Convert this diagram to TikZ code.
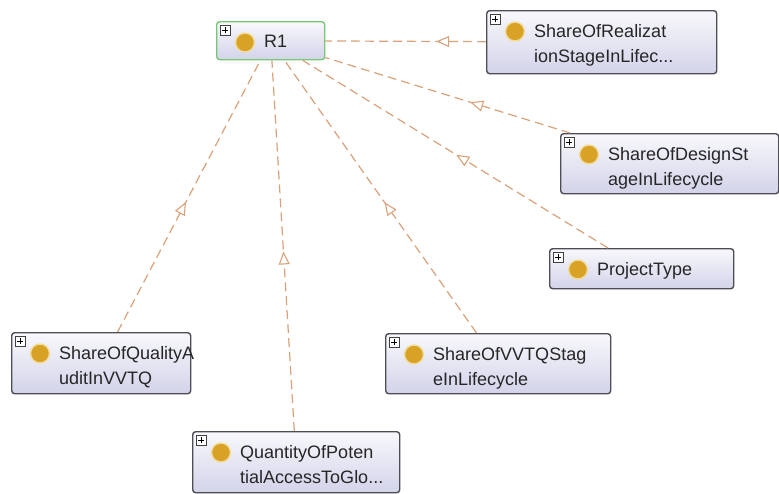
\documentclass[tikz,border=0pt]{standalone}
\usepackage{fontspec}
\setmainfont{Liberation Sans}
\usetikzlibrary{arrows.meta,decorations.markings}
\definecolor{edgec}{HTML}{D9A27A}
\definecolor{dotc}{HTML}{D8A227}
\definecolor{haloc}{HTML}{F2DC9C}
\definecolor{framec}{HTML}{4D4D55}
\definecolor{topc}{HTML}{F8F8FC}
\definecolor{botc}{HTML}{D3D3EA}
\definecolor{greenc}{HTML}{77C777}
\tikzset{
  boxframe/.style={rectangle, rounded corners=3pt, draw=framec, line width=1.4pt,
    top color=topc, bottom color=botc, inner sep=0pt},
  rootframe/.style={boxframe, draw=greenc},
  plusbox/.style={rectangle, draw=black!75, fill=white, line width=0.6pt,
    minimum size=10pt, inner sep=0pt,
    path picture={\draw[line width=0.9pt,black]
      ([xshift=-3pt]path picture bounding box.center) -- ([xshift=3pt]path picture bounding box.center)
      ([yshift=-3pt]path picture bounding box.center) -- ([yshift=3pt]path picture bounding box.center);}},
  dot/.style={circle, fill=dotc, draw=haloc, line width=1.4pt, minimum size=19pt, inner sep=0pt},
  lbl/.style={font=\fontsize{18}{25}\selectfont, align=left, inner sep=0pt, text=black!85},
  edge/.style={draw=edgec, line width=1.2pt, dash pattern=on 9pt off 5pt},
  midtip/.style={postaction={decorate}, decoration={markings,
    mark=at position 0.5 with {\arrow[edgec, line width=1.1pt]{Triangle[length=13pt,width=11pt,fill=white]}}}}
}
\newcommand\ontobox[7][boxframe]{%
  \node[#1, minimum width=#5pt, minimum height=#6pt, anchor=north west] (#2) at (#3,#4) {};
  \node[plusbox, anchor=north west] (#2-p) at ([xshift=4pt,yshift=-4pt]#2.north west) {};
  \node[dot] (#2-d) at ([xshift=29pt,yshift=-21.5pt]#2.north west) {};
  \node[lbl, anchor=north west] (#2-t) at ([xshift=48pt,yshift=-14pt]#2.north west) {#7};
}
\begin{document}
\begin{tikzpicture}[x=1pt,y=-1pt]
  \fill[white] (0,0) rectangle (779,493);
  \useasboundingbox (0,0) rectangle (779,493);
  \ontobox[rootframe]{r1}{216}{21}{108}{38}{R1}
  \ontobox{real}{486}{10}{230}{63}{ShareOfRealizat\\ionStageInLifec...}
  \ontobox{design}{560}{133}{218}{60}{ShareOfDesignSt\\ageInLifecycle}
  \ontobox{ptype}{549}{248}{184}{40}{ProjectType}
  \ontobox{qual}{11}{332}{179}{61}{ShareOfQualityA\\uditInVVTQ}
  \ontobox{vvtq}{385}{333}{225}{60}{ShareOfVVTQStag\\eInLifecycle}
  \ontobox{quant}{192}{431}{207}{61}{QuantityOfPoten\\tialAccessToGlo...}
  \foreach \c in {real,design,ptype,qual,vvtq,quant}{
    \draw[edge] (\c) -- (r1);
    \path[midtip] (\c.center) -- (r1.center);
  }
\end{tikzpicture}
\end{document}
